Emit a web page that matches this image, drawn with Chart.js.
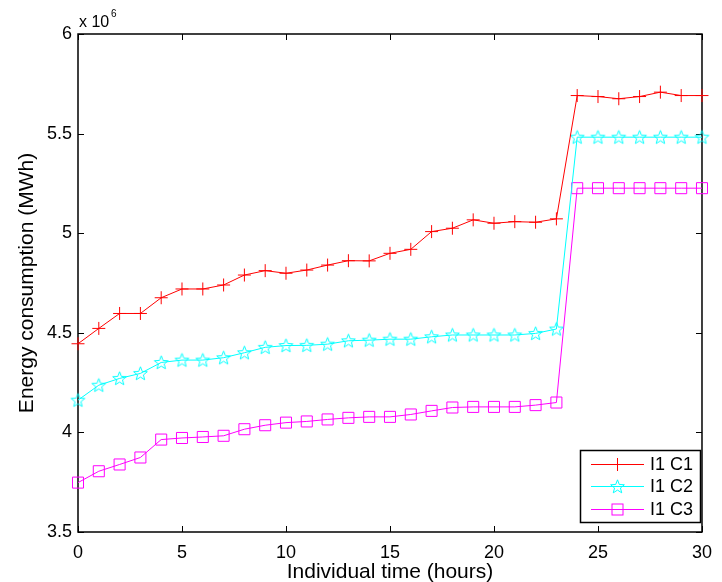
<!DOCTYPE html>
<html>
<head>
<meta charset="utf-8">
<script src="https://cdn.jsdelivr.net/npm/chart.js@4"></script>
<style>
  html, body { margin: 0; padding: 0; background: #fff; }
</style>
</head>
<body>
<canvas id="chart" width="722" height="582"></canvas>
<script>
// hours on the x axis
const hours = [0, 1, 2, 3, 4, 5, 6, 7, 8, 9, 10, 11, 12, 13, 14, 15, 16, 17, 18, 19, 20, 21, 22, 23, 24, 25, 26, 27, 28, 29, 30];
const seriesNames = ['I1 C1', 'I1 C2', 'I1 C3'];

// energy consumption, in units of 10^6 MWh
const c1 = [4.445, 4.522, 4.597, 4.597, 4.676, 4.720, 4.720, 4.740, 4.790, 4.812, 4.799, 4.815, 4.840, 4.862, 4.861, 4.899,
            4.919, 5.008, 5.025, 5.067, 5.050, 5.058, 5.055, 5.072, 5.691, 5.686, 5.675, 5.686, 5.708, 5.691, 5.691];
const c2 = [4.162, 4.237, 4.271, 4.296, 4.351, 4.363, 4.363, 4.375, 4.400, 4.427, 4.436, 4.437, 4.443, 4.460, 4.463, 4.468,
            4.468, 4.480, 4.489, 4.489, 4.489, 4.489, 4.497, 4.519, 5.482, 5.482, 5.482, 5.482, 5.482, 5.482, 5.482];
const c3 = [3.748, 3.805, 3.839, 3.874, 3.964, 3.972, 3.977, 3.983, 4.016, 4.036, 4.049, 4.055, 4.065, 4.073, 4.078, 4.078,
            4.090, 4.108, 4.125, 4.128, 4.128, 4.128, 4.137, 4.150, 5.226, 5.226, 5.226, 5.226, 5.226, 5.226, 5.226];

const xTicks = [0, 5, 10, 15, 20, 25, 30];
const yTicks = [3.5, 4, 4.5, 5, 5.5, 6];
const yTickLabels = ['3.5', '4', '4.5', '5', '5.5', '6'];

const FONT = '"Liberation Sans", Arial, Helvetica, sans-serif';
const colors = ['#ff0000', '#00ffff', '#ff00ff'];

// five point star marker, drawn once
function makeStar(color) {
    const c = document.createElement('canvas');
    c.width = 17; c.height = 17;
    const g = c.getContext('2d');
    g.strokeStyle = color;
    g.lineWidth = 1;
    g.beginPath();
    for (let i = 0; i < 10; i++) {
        const r = i % 2 === 0 ? 7.2 : 3.1;
        const a = -Math.PI / 2 + i * Math.PI / 5;
        const px = 8.5 + r * Math.cos(a), py = 9 + r * Math.sin(a);
        if (i === 0) g.moveTo(px, py); else g.lineTo(px, py);
    }
    g.closePath();
    g.stroke();
    return c;
}
const star = makeStar(colors[1]);

const markers = [
    { pointStyle: 'cross', pointRadius: 6.5 },
    { pointStyle: star, pointRadius: 8 },
    { pointStyle: 'rect', pointRadius: 7.8 }
];

function drawMarker(ctx, i, x, y) {
    ctx.save();
    ctx.strokeStyle = colors[i];
    ctx.lineWidth = 1;
    if (i === 0) {
        ctx.beginPath();
        ctx.moveTo(x - 6.5, y); ctx.lineTo(x + 6.5, y);
        ctx.moveTo(x, y - 6.5); ctx.lineTo(x, y + 6.5);
        ctx.stroke();
    } else if (i === 1) {
        ctx.drawImage(star, x - star.width / 2, y - star.height / 2);
    } else {
        ctx.strokeRect(x - 5.5, y - 5.5, 11, 11);
    }
    ctx.restore();
}

const matlabAxes = {
    id: 'matlabAxes',
    beforeDatasetsDraw(chart) {
        const { ctx, chartArea: a, scales } = chart;
        ctx.save();
        ctx.strokeStyle = '#000';
        ctx.lineWidth = 1.5;
        ctx.strokeRect(a.left, a.top, a.right - a.left, a.bottom - a.top);
        ctx.lineWidth = 1;
        ctx.beginPath();
        const len = 6;
        xTicks.forEach(v => {
            const x = Math.round(scales.x.getPixelForValue(v)) + 0.5;
            ctx.moveTo(x, a.bottom); ctx.lineTo(x, a.bottom - len);
            ctx.moveTo(x, a.top); ctx.lineTo(x, a.top + len);
        });
        yTicks.forEach(v => {
            const y = Math.round(scales.y.getPixelForValue(v)) + 0.5;
            ctx.moveTo(a.left, y); ctx.lineTo(a.left + len, y);
            ctx.moveTo(a.right, y); ctx.lineTo(a.right - len, y);
        });
        ctx.stroke();
        ctx.restore();
    },
    afterDraw(chart) {
        const { ctx, chartArea: a } = chart;
        ctx.save();
        ctx.fillStyle = '#000';

        // axis titles
        ctx.font = '21px ' + FONT;
        ctx.textAlign = 'center';
        ctx.textBaseline = 'alphabetic';
        ctx.fillText('Individual time (hours)', (a.left + a.right) / 2, 578);
        ctx.save();
        ctx.translate(33, (a.top + a.bottom) / 2);
        ctx.rotate(-Math.PI / 2);
        ctx.fillText('Energy consumption (MWh)', 0, 0);
        ctx.restore();

        // exponent label
        ctx.textAlign = 'left';
        ctx.font = '16px ' + FONT;
        ctx.fillText('x 10', 79, 27);
        ctx.font = '10px ' + FONT;
        ctx.fillText('6', 111, 17);

        // legend
        const lx = 580.5, ly = 450.5, lw = 120, lh = 72;
        ctx.fillStyle = '#fff';
        ctx.fillRect(lx, ly, lw, lh);
        ctx.strokeStyle = '#000';
        ctx.lineWidth = 1.5;
        ctx.strokeRect(lx, ly, lw, lh);
        const rows = [464.5, 486.5, 509.5];
        ctx.font = '18px ' + FONT;
        ctx.textBaseline = 'middle';
        seriesNames.forEach((name, i) => {
            ctx.strokeStyle = colors[i];
            ctx.lineWidth = 1;
            ctx.beginPath();
            ctx.moveTo(591, rows[i]); ctx.lineTo(644, rows[i]);
            ctx.stroke();
            drawMarker(ctx, i, 617.5, rows[i]);
            ctx.fillStyle = '#000';
            ctx.fillText(name, 650, rows[i] + 1);
        });
        ctx.restore();
    }
};

const seriesData = [c1, c2, c3];

new Chart(document.getElementById('chart'), {
    type: 'line',
    data: {
        datasets: seriesData.map((vals, i) => ({
            label: seriesNames[i],
            data: hours.map((h, j) => ({ x: h, y: vals[j] })),
            borderColor: colors[i],
            borderWidth: 1,
            pointStyle: markers[i].pointStyle,
            pointRadius: markers[i].pointRadius,
            pointBorderColor: colors[i],
            pointBackgroundColor: 'rgba(0,0,0,0)',
            pointBorderWidth: 1,
            tension: 0,
            clip: false
        }))
    },
    options: {
        responsive: false,
        animation: false,
        layout: { padding: { left: 0, top: 34, right: 13, bottom: 0 } },
        plugins: { legend: { display: false }, tooltip: { enabled: false } },
        scales: {
            x: {
                type: 'linear',
                min: 0, max: 30,
                afterFit: s => { s.height = 50; },
                afterBuildTicks: s => { s.ticks = xTicks.map(v => ({ value: v })); },
                grid: { display: false, drawTicks: false },
                border: { display: false },
                ticks: { color: '#000', padding: 10, maxRotation: 0, font: { family: FONT, size: 18 } }
            },
            y: {
                min: 3.5, max: 6,
                afterFit: s => { s.width = 78; },
                afterBuildTicks: s => { s.ticks = yTicks.map(v => ({ value: v })); },
                grid: { display: false, drawTicks: false },
                border: { display: false },
                ticks: {
                    color: '#000', padding: 6, font: { family: FONT, size: 18 },
                    callback: (v) => yTickLabels[yTicks.indexOf(v)]
                }
            }
        }
    },
    plugins: [matlabAxes]
});
</script>
</body>
</html>
